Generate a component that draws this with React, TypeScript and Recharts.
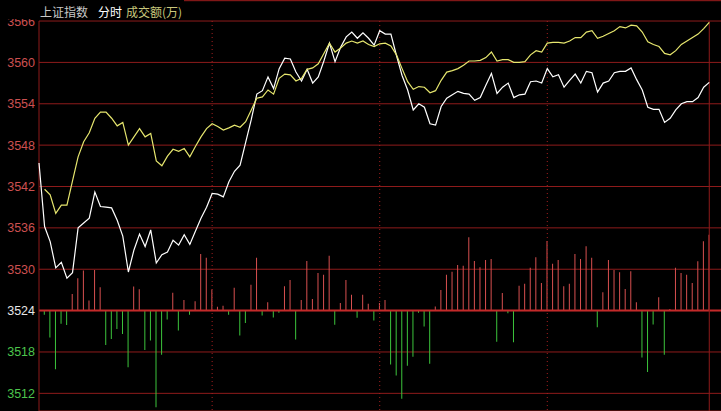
import { ComposedChart, Line, Bar, Cell, XAxis, YAxis, CartesianGrid, ReferenceLine } from 'recharts'

// 2-minute samples, index 0..120
const price = [
  3545.4, 3536.2, 3534.0, 3530.2, 3531.0, 3528.7, 3529.5, 3536.0, 3536.7, 3537.4,
  3541.2, 3539.1, 3539.0, 3538.9, 3537.1, 3534.8, 3529.6, 3532.8, 3535.1, 3533.3,
  3535.7, 3530.9, 3532.1, 3532.5, 3534.2, 3533.5, 3535.0, 3533.6, 3535.5, 3537.4,
  3539.0, 3541.0, 3540.9, 3540.5, 3542.7, 3544.2, 3545.1, 3548.4, 3551.7, 3555.4,
  3555.9, 3557.9, 3556.2, 3559.1, 3560.6, 3560.5, 3558.6, 3557.3, 3559.0, 3557.0,
  3557.9, 3560.2, 3562.8, 3560.1, 3562.2, 3563.7, 3564.4, 3563.5, 3564.3, 3563.5,
  3562.5, 3564.6, 3564.1, 3564.1, 3561.0, 3558.1, 3556.0, 3553.1, 3554.0, 3553.5,
  3551.1, 3550.9, 3553.6, 3554.8, 3555.3, 3555.8, 3555.5, 3555.4, 3554.5, 3554.9,
  3556.7, 3558.4, 3555.5, 3556.4, 3557.0, 3554.9, 3555.3, 3555.4, 3557.2, 3557.3,
  3557.0, 3559.1, 3557.9, 3558.2, 3556.4, 3557.4, 3558.3, 3557.0, 3558.7, 3558.5,
  3555.7, 3557.0, 3557.3, 3558.5, 3558.7, 3558.7, 3559.2, 3557.5, 3556.0, 3553.5,
  3553.2, 3553.2, 3551.3, 3551.9, 3553.1, 3554.0, 3554.3, 3554.3, 3554.9, 3556.4,
  3557.1,
]

const avgPrice = [
  null, 3541.6, 3540.8, 3538.1, 3539.3, 3539.3, 3542.8, 3546.3, 3548.5, 3549.8,
  3551.9, 3552.8, 3552.8, 3551.9, 3550.8, 3551.3, 3548.0, 3549.2, 3550.4, 3549.2,
  3549.7, 3545.7, 3545.0, 3546.4, 3547.4, 3547.1, 3547.5, 3546.3, 3547.8, 3549.2,
  3550.4, 3551.1, 3550.7, 3550.2, 3550.5, 3550.9, 3550.6, 3551.4, 3553.1, 3554.8,
  3555.0, 3556.0, 3555.4, 3557.7, 3558.3, 3558.2, 3557.3, 3557.7, 3559.0, 3559.2,
  3559.8, 3561.3, 3562.8, 3561.5, 3562.1, 3562.8, 3563.1, 3562.8, 3563.1, 3562.6,
  3562.3, 3562.7, 3562.8, 3562.4, 3561.1, 3559.1, 3557.2, 3556.1, 3556.5, 3556.4,
  3555.6, 3555.9, 3557.4, 3558.6, 3558.8, 3559.1, 3559.6, 3560.2, 3560.2, 3560.3,
  3560.7, 3561.5, 3560.2, 3560.4, 3560.4, 3560.0, 3560.0, 3560.1, 3561.1, 3561.7,
  3561.5, 3562.8, 3562.9, 3562.9, 3562.8, 3563.1, 3563.6, 3563.6, 3564.4, 3564.6,
  3563.5, 3563.8, 3564.2, 3564.6, 3565.2, 3565.0, 3565.4, 3565.3, 3564.4, 3563.0,
  3562.6, 3562.3, 3561.3, 3561.1, 3561.7, 3562.6, 3563.1, 3563.6, 3564.1, 3564.9,
  3565.8,
]

// bar length measured from the 3524 line
const barDelta = [
  0, -0.6, -3.9, -8.5, -1.9, -2.1, 2.4, 4.7, 5.8, 1.45,
  5.9, 3.4, -5.0, -4.1, -2.65, -3.4, -8.2, 3.5, 3.1, -5.7,
  -4.35, -14.0, -6.4, -1.3, 2.6, -2.9, 1.55, -0.6, 1.35, 8.2,
  7.65, 3.05, 0.55, 0.7, -0.6, 3.3, -3.6, -1.8, 3.75, 7.65,
  -0.7, 1.2, -1.0, -0.3, 3.55, 4.45, -4.2, 1.55, 7.2, 1.7,
  5.45, 5.2, 7.95, -2.05, 1.1, 4.45, 2.3, -1.05, 2.3, 1.0,
  -1.45, 1.1, 1.55, -7.8, -9.4, -12.8, -8.0, -6.7, -0.3, -2.3,
  -7.7, 0.6, 3.0, 5.2, 5.65, 6.6, 6.5, 10.65, 7.2, 6.3,
  7.35, 7.5, -4.5, 2.55, -0.4, -4.6, 3.6, 3.9, 6.2, 7.75,
  4.0, 10.1, 6.8, 7.35, 3.55, 3.9, 8.2, 7.5, 9.35, 7.65,
  -2.4, 2.65, 7.35, 5.9, 5.55, 3.15, 5.7, 1.2, -6.8, -8.9,
  -2.0, 1.95, -6.4, 0.25, 6.2, 5.45, 5.2, 4.0, 7.15, 10.05,
  11.0,
]

const priceTicks = [3512, 3518, 3524, 3530, 3536, 3542, 3548, 3554, 3560, 3566]
const baseLevel = 3524
const sessionMarks = [31, 61, 91]

const Y_MIN = 3509.44
const Y_MAX = 3569.05

const rows = price.map((p, i) => ({ k: i, price: p, avg: avgPrice[i], delta: barDelta[i] }))

const GRID = '#8e1b1b'

function PriceTick(props: any) {
  const v = props.payload.value
  const fill = v > baseLevel ? '#cc5050' : v < baseLevel ? '#4cc44c' : '#e6e6e6'
  return (
    <text x={35} y={props.y} dy={4.5} textAnchor="end" fill={fill} fontSize={12.5} fontFamily="'Liberation Sans', Arial, sans-serif">
      {v}
    </text>
  )
}

export default function App() {
  return (
    <div style={{ position: 'relative', width: 721, height: 411, background: '#000', overflow: 'hidden' }}>
      <style>{'body{margin:0;background:#000}'}</style>
      <ComposedChart width={721} height={411} data={rows} margin={{ top: 0, right: 0, bottom: 0, left: 0 }}>
        <XAxis dataKey="k" type="number" domain={[0, 122.1]} hide />
        <YAxis
          domain={[Y_MIN, Y_MAX]}
          ticks={priceTicks}
          interval={0}
          allowDataOverflow
          width={39}
          axisLine={false}
          tickLine={false}
          tick={<PriceTick />}
        />
        <YAxis yAxisId="bar" hide domain={[Y_MIN - baseLevel, Y_MAX - baseLevel]} allowDataOverflow />
        <CartesianGrid vertical={false} stroke={GRID} strokeWidth={1} />
        <ReferenceLine y={Y_MAX - 0.1} stroke={GRID} />
        <ReferenceLine y={baseLevel} stroke="#c42a2a" strokeWidth={2} />
        <ReferenceLine segment={[{ x: 0, y: 3566 }, { x: 0, y: Y_MIN }]} stroke={GRID} />
        <ReferenceLine segment={[{ x: 120, y: 3566 }, { x: 120, y: Y_MIN }]} stroke={GRID} />
        {sessionMarks.map(m => (
          <ReferenceLine key={m} segment={[{ x: m, y: 3566 }, { x: m, y: Y_MIN }]} stroke="#a82020" strokeDasharray="1 3" />
        ))}
        <Bar yAxisId="bar" dataKey="delta" barSize={1} isAnimationActive={false}>
          {rows.map(r => (
            <Cell key={r.k} fill={r.delta >= 0 ? '#d85050' : '#3cc43c'} />
          ))}
        </Bar>
        <Line dataKey="price" stroke="#ffffff" strokeWidth={1.2} dot={false} isAnimationActive={false} />
        <Line dataKey="avg" stroke="#e6e66e" strokeWidth={1.2} dot={false} isAnimationActive={false} />
      </ComposedChart>
      <div
        style={{
          position: 'absolute', left: 0, top: 0, width: 184, height: 19, background: '#000',
          fontFamily: "'Noto Sans CJK SC', sans-serif", fontSize: 12, lineHeight: '14px',
        }}
      >
        <span style={{ position: 'absolute', left: 40, top: 5, color: '#c8c8c8' }}>上证指数</span>
        <span style={{ position: 'absolute', left: 98, top: 5, color: '#ffffff' }}>分时</span>
        <span style={{ position: 'absolute', left: 126, top: 5, color: '#c8c87c' }}>成交额(万)</span>
      </div>
    </div>
  )
}
